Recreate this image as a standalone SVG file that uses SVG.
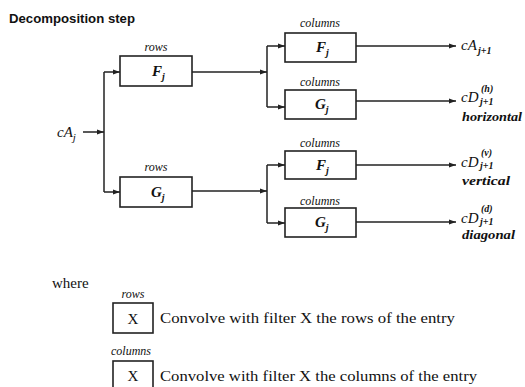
<svg xmlns="http://www.w3.org/2000/svg" width="525" height="387" viewBox="0 0 525 387">
  <style>
    .box { fill: #ffffff; stroke: #222; stroke-width: 1.6; }
    .wire { fill: none; stroke: #222; stroke-width: 1.5; }
    .lbl { font-family: "Liberation Serif", "DejaVu Serif", serif; font-style: italic; font-size: 12px; fill: #111; }
    .sym { font-family: "Liberation Serif", "DejaVu Serif", serif; font-style: italic; font-weight: bold; font-size: 15px; fill: #111; }
    .out { font-family: "Liberation Serif", "DejaVu Serif", serif; font-style: italic; font-size: 15px; fill: #111; }
    .idx { font-family: "Liberation Serif", "DejaVu Serif", serif; font-style: italic; font-weight: bold; font-size: 10px; fill: #111; }
    .tag { font-family: "Liberation Serif", "DejaVu Serif", serif; font-style: italic; font-weight: bold; font-size: 12px; fill: #111; }
    .leg { font-family: "Liberation Serif", "DejaVu Serif", serif; font-size: 15px; fill: #111; }
    .title { font-family: "Liberation Sans", Arial, sans-serif; font-weight: bold; font-size: 13px; fill: #111; }
  </style>
  <defs>
    <marker id="arrow" markerUnits="userSpaceOnUse" markerWidth="8" markerHeight="6" refX="7" refY="3" orient="auto">
      <path d="M0,0.5 L7,3 L0,5.5 z" fill="#222"/>
    </marker>
  </defs>
  <rect width="525" height="387" fill="#ffffff"/>

  <text class="title" x="9" y="23" textLength="126" lengthAdjust="spacingAndGlyphs">Decomposition step</text>

  <!-- input -->
  <g id="input">
    <text class="out" x="57" y="137">cA<tspan font-size="11" dy="4">j</tspan></text>
  </g>

  <!-- row filters -->
  <g id="rows-F">
    <text class="lbl" x="156" y="51" text-anchor="middle">rows</text>
    <rect class="box" x="120" y="56" width="72" height="30"/>
    <text class="sym" x="152" y="76">F<tspan font-size="10" dy="4">j</tspan></text>
  </g>
  <g id="rows-G">
    <text class="lbl" x="156" y="171" text-anchor="middle">rows</text>
    <rect class="box" x="120" y="177" width="72" height="30"/>
    <text class="sym" x="151" y="197">G<tspan font-size="10" dy="4">j</tspan></text>
  </g>

  <!-- column filters -->
  <g id="cols-F-top">
    <text class="lbl" x="320" y="27" text-anchor="middle">columns</text>
    <rect class="box" x="285" y="33" width="71" height="29"/>
    <text class="sym" x="316" y="52">F<tspan font-size="10" dy="4">j</tspan></text>
  </g>
  <g id="cols-G-top">
    <text class="lbl" x="320" y="86" text-anchor="middle">columns</text>
    <rect class="box" x="285" y="90" width="71" height="29"/>
    <text class="sym" x="315" y="109">G<tspan font-size="10" dy="4">j</tspan></text>
  </g>
  <g id="cols-F-bottom">
    <text class="lbl" x="320" y="147" text-anchor="middle">columns</text>
    <rect class="box" x="285" y="151" width="71" height="28"/>
    <text class="sym" x="316" y="170">F<tspan font-size="10" dy="4">j</tspan></text>
  </g>
  <g id="cols-G-bottom">
    <text class="lbl" x="320" y="205" text-anchor="middle">columns</text>
    <rect class="box" x="285" y="208" width="71" height="29"/>
    <text class="sym" x="315" y="227">G<tspan font-size="10" dy="4">j</tspan></text>
  </g>

  <!-- outputs -->
  <g id="out-approx">
    <text class="out" x="461" y="50">cA</text>
    <text class="idx" x="478" y="54">j+1</text>
  </g>
  <g id="out-horizontal">
    <text class="out" x="461" y="102">cD</text>
    <text class="idx" x="480" y="105">j+1</text>
    <text class="idx" x="481" y="92">(h)</text>
    <text class="tag" x="462" y="121" textLength="60" lengthAdjust="spacingAndGlyphs">horizontal</text>
  </g>
  <g id="out-vertical">
    <text class="out" x="461" y="167">cD</text>
    <text class="idx" x="480" y="169">j+1</text>
    <text class="idx" x="481" y="156">(v)</text>
    <text class="tag" x="462" y="185" textLength="48" lengthAdjust="spacingAndGlyphs">vertical</text>
  </g>
  <g id="out-diagonal">
    <text class="out" x="461" y="223">cD</text>
    <text class="idx" x="480" y="225">j+1</text>
    <text class="idx" x="481" y="212">(d)</text>
    <text class="tag" x="462" y="239" textLength="53" lengthAdjust="spacingAndGlyphs">diagonal</text>
  </g>

  <!-- connectors -->
  <g id="connectors">
    <path class="wire" d="M83,132 H104" marker-end="url(#arrow)"/>
    <path class="wire" d="M104,72 V192"/>
    <path class="wire" d="M104,72 H120" marker-end="url(#arrow)"/>
    <path class="wire" d="M104,192 H120" marker-end="url(#arrow)"/>

    <path class="wire" d="M192,72 H267" marker-end="url(#arrow)"/>
    <path class="wire" d="M267,46 V107"/>
    <path class="wire" d="M267,46 H285" marker-end="url(#arrow)"/>
    <path class="wire" d="M267,107 H285" marker-end="url(#arrow)"/>

    <path class="wire" d="M192,191 H267" marker-end="url(#arrow)"/>
    <path class="wire" d="M267,165 V223"/>
    <path class="wire" d="M267,165 H285" marker-end="url(#arrow)"/>
    <path class="wire" d="M267,223 H285" marker-end="url(#arrow)"/>

    <path class="wire" d="M356,46 H456" marker-end="url(#arrow)"/>
    <path class="wire" d="M356,101 H456" marker-end="url(#arrow)"/>
    <path class="wire" d="M356,165 H456" marker-end="url(#arrow)"/>
    <path class="wire" d="M356,222 H456" marker-end="url(#arrow)"/>
  </g>

  <!-- legend -->
  <g id="legend">
    <text class="leg" x="52" y="288">where</text>
    <text class="lbl" x="133" y="298" text-anchor="middle" font-size="11">rows</text>
    <rect class="box" x="113" y="303" width="40" height="30" stroke-width="1.3"/>
    <text class="leg" x="133" y="324" text-anchor="middle">X</text>
    <text class="leg" x="160" y="323" textLength="295" lengthAdjust="spacingAndGlyphs">Convolve with filter X the rows of the entry</text>

    <text class="lbl" x="131" y="355" text-anchor="middle" font-size="11">columns</text>
    <rect class="box" x="113" y="361" width="40" height="32" stroke-width="1.3"/>
    <text class="leg" x="133" y="381" text-anchor="middle">X</text>
    <text class="leg" x="160" y="381" textLength="317" lengthAdjust="spacingAndGlyphs">Convolve with filter X the columns of the entry</text>
  </g>
</svg>
